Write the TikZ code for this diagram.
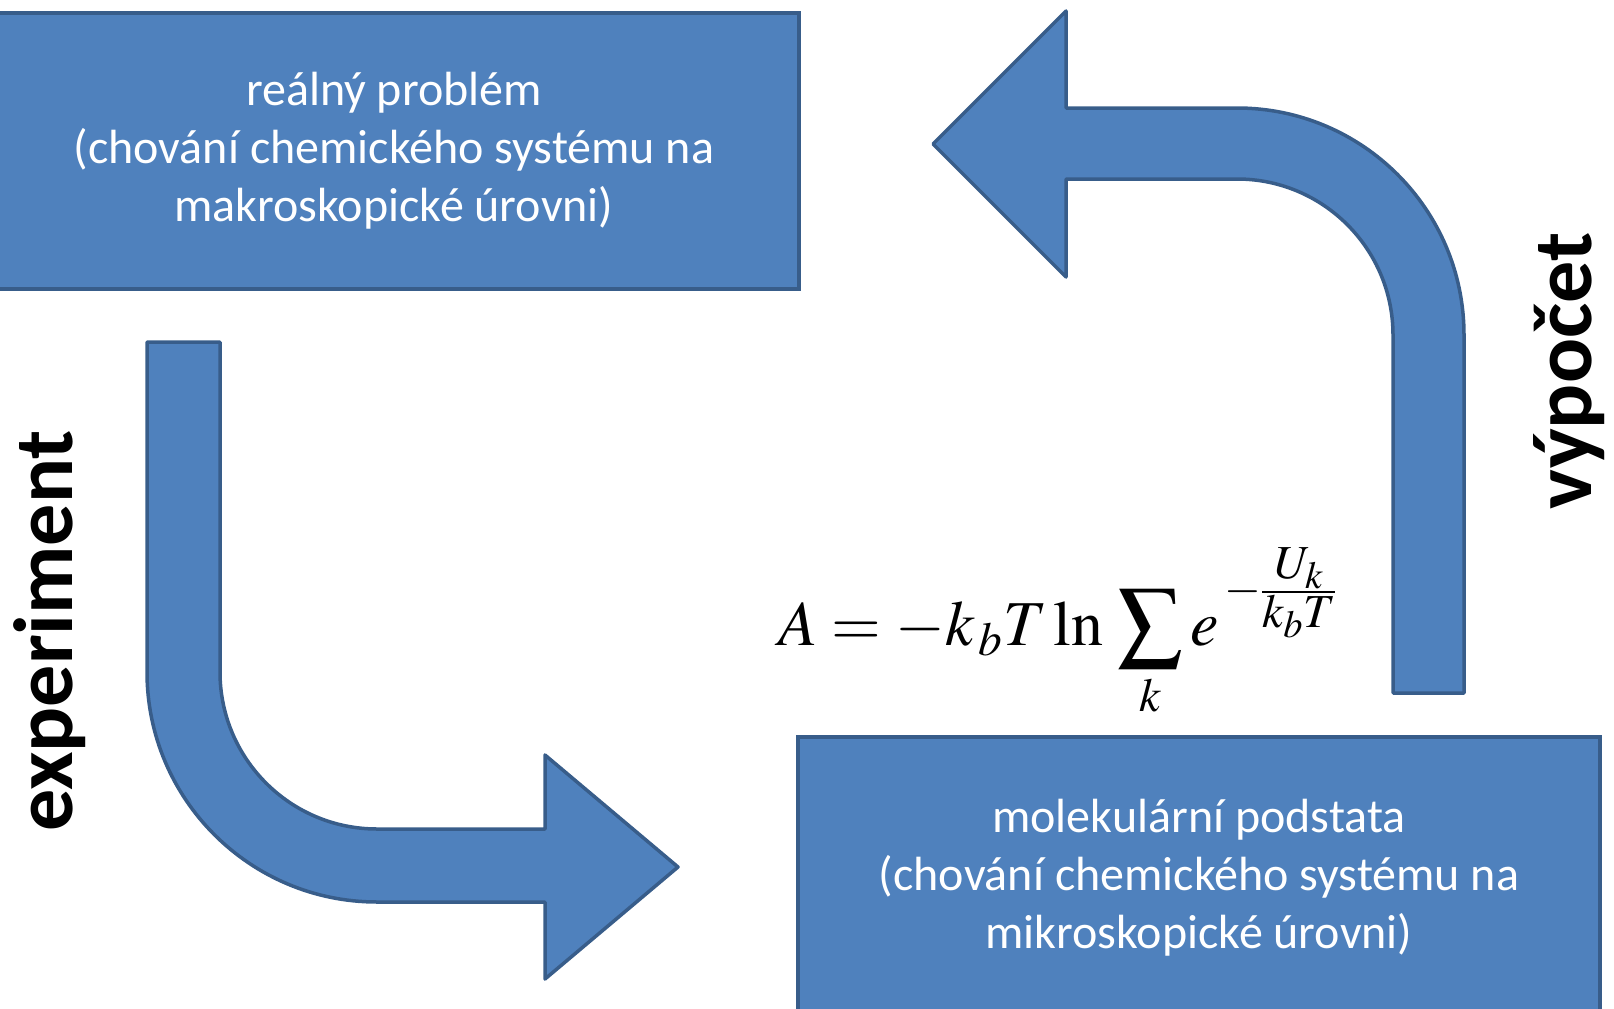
\documentclass[tikz,border=0pt]{standalone}
\usepackage{mathptmx}
\usepackage[no-math]{fontspec}
\setmainfont{Carlito}
\definecolor{boxfill}{HTML}{4F81BD}
\definecolor{boxline}{HTML}{385D8A}
\begin{document}
\begin{tikzpicture}[x=1pt, y=-1pt,
    panel/.style={draw=boxline, line width=3.5pt, fill=boxfill, text=white, align=center,
        font=\fontsize{48}{58}\selectfont, inner sep=0pt},
    bentarrow/.style={draw=boxline, line width=3.5pt, fill=boxfill, line join=round},
    sidelabel/.style={rotate=90, font=\bfseries\fontsize{84}{100}\selectfont}]
    \useasboundingbox (0,0) rectangle (1614,1009);
    \clip (0,0) rectangle (1614,1009);
    %   Two boxes, both partly cut by the page edge
    \node[panel, minimum width=810pt, minimum height=276pt] (problem) at (394,151)
        {reálný problém\\(chování chemického systému na\\makroskopické úrovni)};
    \node[panel, minimum width=802pt, minimum height=282pt] (basis) at (1199,878)
        {molekulární podstata\\(chování chemického systému na\\mikroskopické úrovni)};
    %   Bent arrow going down and to the right
    \draw[bentarrow] (147,342) -- (220,342) -- (220,672)
        arc[start angle=180, end angle=90, radius=157] -- (545,829) -- (545,755)
        -- (678,867) -- (545,979) -- (545,902) -- (377,902)
        arc[start angle=90, end angle=180, radius=230] -- cycle;
    %   Bent arrow going up and to the left
    \draw[bentarrow] (1393,693) -- (1464,693) -- (1464,335)
        arc[start angle=0, end angle=-90, radius=227] -- (1066,108) -- (1066,11)
        -- (933,144) -- (1066,277) -- (1066,179) -- (1237,179)
        arc[start angle=-90, end angle=0, radius=156] -- cycle;
    %   Labels
    \node[sidelabel] (exp) at (50,631) {experiment};
    \node[sidelabel] (calc) at (1569,371) {výpočet};
    \node[anchor=base west, inner sep=0pt, font=\fontsize{64}{76}\selectfont] (formula) at (778,645)
        {$\displaystyle A = -k_{\,b} T \ln\, \sum_k e^{\raisebox{12pt}{$\scriptstyle\,-\frac{\scriptstyle U_k}{\scriptstyle k_b T}$}}$};
\end{tikzpicture}
\end{document}
